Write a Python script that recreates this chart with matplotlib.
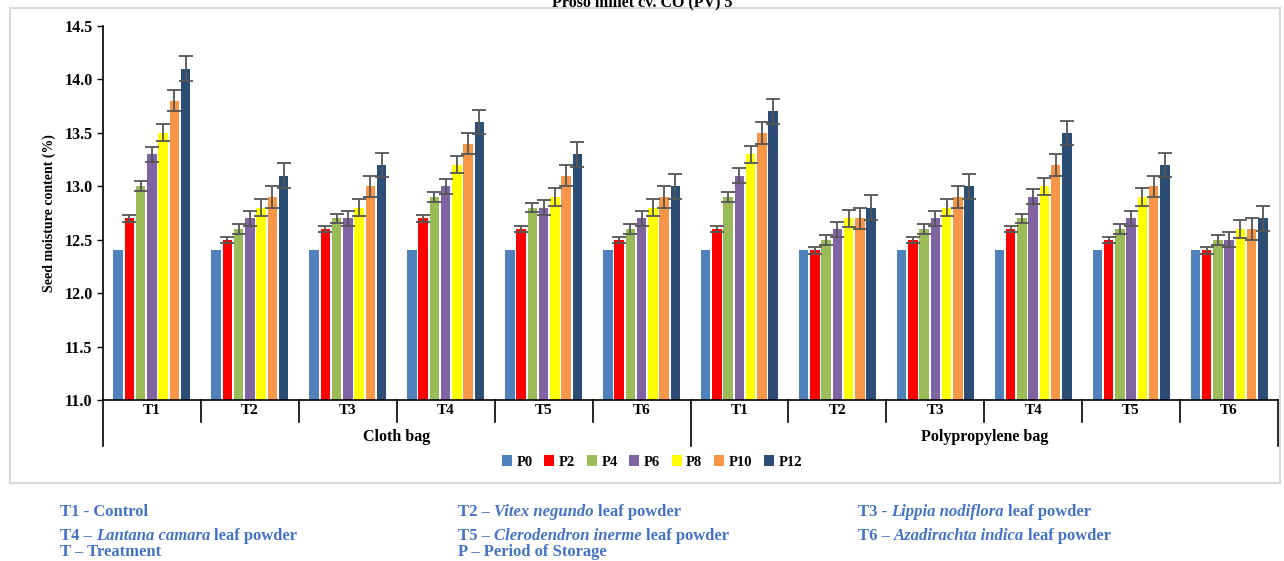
import matplotlib
matplotlib.use("Agg")
import matplotlib.pyplot as plt
import matplotlib.text as mtext
import numpy as np

plt.rcParams['font.family'] = ['Liberation Serif', 'DejaVu Serif']

# data
bags = ['Cloth bag', 'Polypropylene bag']
treatments = ['T1', 'T2', 'T3', 'T4', 'T5', 'T6']
periods = ['P0', 'P2', 'P4', 'P6', 'P8', 'P10', 'P12']
colors = ['#4F81BD', '#FF0000', '#9BBB59', '#8064A2', '#FFFF00', '#F79646', '#2C4D76']

# rows = bag x treatment (12 groups), cols = period
moisture = [
    [12.4, 12.7, 13.0, 13.3, 13.5, 13.8, 14.1],
    [12.4, 12.5, 12.6, 12.7, 12.8, 12.9, 13.1],
    [12.4, 12.6, 12.7, 12.7, 12.8, 13.0, 13.2],
    [12.4, 12.7, 12.9, 13.0, 13.2, 13.4, 13.6],
    [12.4, 12.6, 12.8, 12.8, 12.9, 13.1, 13.3],
    [12.4, 12.5, 12.6, 12.7, 12.8, 12.9, 13.0],
    [12.4, 12.6, 12.9, 13.1, 13.3, 13.5, 13.7],
    [12.4, 12.4, 12.5, 12.6, 12.7, 12.7, 12.8],
    [12.4, 12.5, 12.6, 12.7, 12.8, 12.9, 13.0],
    [12.4, 12.6, 12.7, 12.9, 13.0, 13.2, 13.5],
    [12.4, 12.5, 12.6, 12.7, 12.9, 13.0, 13.2],
    [12.4, 12.4, 12.5, 12.5, 12.6, 12.6, 12.7],
]
errors = [0.0, 0.03, 0.045, 0.07, 0.08, 0.1, 0.115]

moisture = np.array(moisture)
n_groups = moisture.shape[0]

fig = plt.figure(figsize=(12.84, 5.61), dpi=100)
W, H = 1284, 561

# light frame around the chart
fig.patches.append(plt.Rectangle((10 / W, 1 - 483 / H), 1270 / W, 475 / H,
                                 transform=fig.transFigure, fill=False,
                                 edgecolor='#d9d9d9', linewidth=1.5))

ax = fig.add_axes([103 / W, 1 - 400 / H, 1175 / W, 374 / H])

step = 0.115
width = 0.097
x0 = np.arange(n_groups) + 0.5
for j, p in enumerate(periods):
    xs = x0 + (j - 3) * step
    ax.bar(xs, moisture[:, j] - 11.0, bottom=11.0, width=width, color=colors[j],
           label=p, zorder=2)
    if errors[j] > 0:
        ax.errorbar(xs, moisture[:, j], yerr=errors[j], fmt='none',
                    ecolor='#555555', elinewidth=1.3, capsize=5, capthick=1.3, zorder=3)

ax.set_xlim(0, n_groups)
ax.set_ylim(11.0, 14.5)
yt = np.arange(11.0, 14.51, 0.5)
ax.set_yticks(yt)
ax.set_yticklabels(['%.1f' % v for v in yt], fontsize=11.5, fontweight='bold')
ax.tick_params(axis='y', direction='out', length=4, width=1)
ax.set_xticks([])
for s in ['top', 'right']:
    ax.spines[s].set_visible(False)
ax.spines['left'].set_linewidth(1.2)
ax.spines['bottom'].set_linewidth(1.2)
ax.set_ylabel('Seed moisture content (%)', fontsize=10, fontweight='bold', labelpad=6)

# category axis: treatment labels, bag labels and separators
tr = ax.get_xaxis_transform()
short = -22 / 374
long_ = -46 / 374
for b in range(n_groups + 1):
    yb = long_ if b % 6 == 0 else short
    ax.plot([b, b], [0, yb], color='black', lw=1.2, transform=tr, clip_on=False)
for i in range(n_groups):
    ax.text(i + 0.5, -11 / 374, treatments[i % 6], transform=tr, ha='center', va='center',
            fontsize=11, fontweight='bold')
for k, bag in enumerate(bags):
    ax.text(k * 6 + 3, -37 / 374, bag, transform=tr, ha='center', va='center',
            fontsize=11.5, fontweight='bold')

fig.legend(loc='center', bbox_to_anchor=(652 / W, 1 - 462 / H), ncol=7, frameon=False,
           prop={'weight': 'bold', 'size': 10.5}, handlelength=0.7, handleheight=0.7,
           handletextpad=0.3, columnspacing=0.8)

fig.text(0.5, 1 - 6 / H, 'Proso millet cv. CO (PV) 5', ha='center', va='baseline',
         fontsize=11.5, fontweight='bold')

# notes under the chart (mixed italic)
note_color = '#4472C4'
notes = [
    (60, 520, [('T1 - Control', 'normal')]),
    (458, 520, [('T2 \u2013', 'normal'), (' Vitex negundo', 'italic'), (' leaf powder', 'normal')]),
    (858, 520, [('T3 -', 'normal'), (' Lippia nodiflora', 'italic'), (' leaf powder', 'normal')]),
    (60, 544, [('T4 \u2013', 'normal'), (' Lantana camara', 'italic'), (' leaf powder', 'normal')]),
    (458, 544, [('T5 \u2013', 'normal'), (' Clerodendron inerme', 'italic'), (' leaf powder', 'normal')]),
    (858, 544, [('T6 \u2013', 'normal'), (' Azadirachta indica', 'italic'), (' leaf powder', 'normal')]),
    (60, 560, [('T \u2013 Treatment', 'normal')]),
    (458, 560, [('P \u2013 Period of Storage', 'normal')]),
]


def draw_note(x, y, parts):
    last = None
    for txt, style in parts:
        lead = txt.startswith(' ')
        txt = txt.strip()
        kw = dict(ha='left', va='bottom', color=note_color, fontsize=12,
                  fontweight='bold', fontstyle=style)
        if last is None:
            last = fig.text(x / W, 1 - y / H, txt, **kw)
        else:
            last = fig.add_artist(mtext.Annotation(
                txt, xy=(1, 0), xycoords=last, xytext=(3 if lead else 0, 0),
                textcoords='offset points', annotation_clip=False, **kw))


for x, y, parts in notes:
    draw_note(x, y, parts)

fig.savefig('out.png', dpi=100)
